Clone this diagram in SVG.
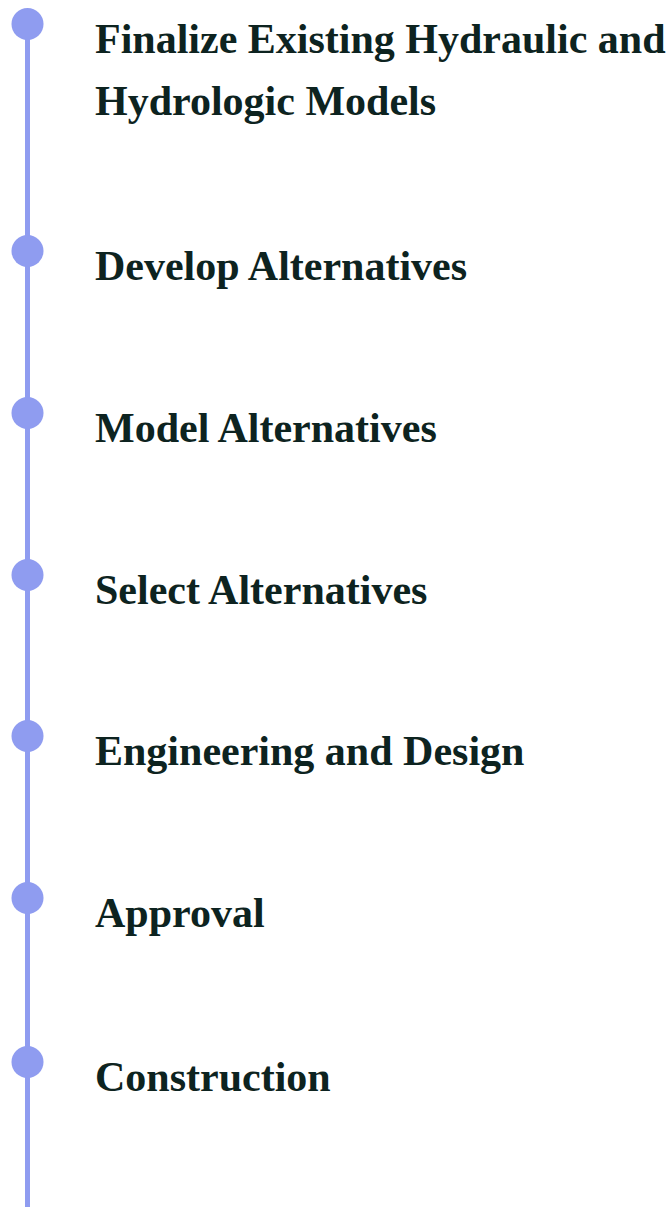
<svg xmlns="http://www.w3.org/2000/svg" width="670" height="1207" viewBox="0 0 670 1207">
  <style>
    .dot { fill: #8f9cf0; }
    .line { stroke: #8f9cf0; stroke-width: 5; fill: none; }
    .label { font-family: "Liberation Serif", "Times New Roman", serif; font-weight: bold; font-size: 42px; fill: #0d2320; }
  </style>
  <rect width="670" height="1207" fill="#ffffff"/>
  <g id="connectors">
    <line class="line" x1="27.5" y1="24" x2="27.5" y2="1207"/>
  </g>
  <g id="step1">
    <circle class="dot" cx="27.5" cy="24" r="16"/>
    <text class="label" x="95" y="53">Finalize Existing Hydraulic and</text>
    <text class="label" x="95" y="115">Hydrologic Models</text>
  </g>
  <g id="step2">
    <circle class="dot" cx="27.5" cy="251" r="16"/>
    <text class="label" x="95" y="280">Develop Alternatives</text>
  </g>
  <g id="step3">
    <circle class="dot" cx="27.5" cy="413" r="16"/>
    <text class="label" x="95" y="442">Model Alternatives</text>
  </g>
  <g id="step4">
    <circle class="dot" cx="27.5" cy="575" r="16"/>
    <text class="label" x="95" y="604">Select Alternatives</text>
  </g>
  <g id="step5">
    <circle class="dot" cx="27.5" cy="736" r="16"/>
    <text class="label" x="95" y="765">Engineering and Design</text>
  </g>
  <g id="step6">
    <circle class="dot" cx="27.5" cy="898" r="16"/>
    <text class="label" x="95" y="927">Approval</text>
  </g>
  <g id="step7">
    <circle class="dot" cx="27.5" cy="1062" r="16"/>
    <text class="label" x="95" y="1091">Construction</text>
  </g>
</svg>
